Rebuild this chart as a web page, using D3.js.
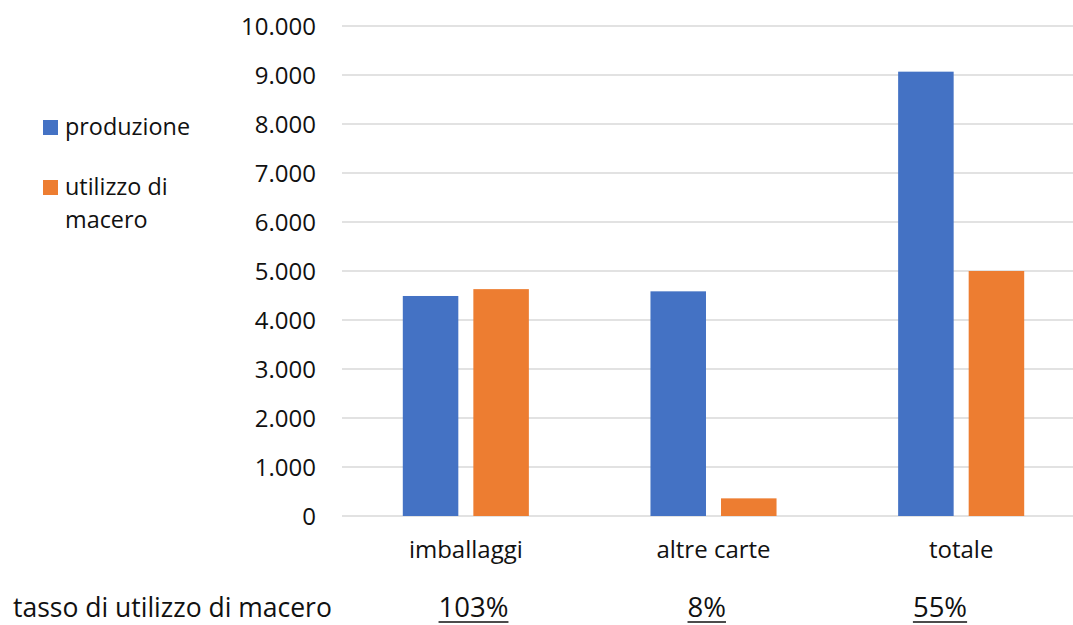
<!DOCTYPE html>
<html><head><meta charset="utf-8">
<script src="https://cdn.jsdelivr.net/npm/d3@7"></script>
<style>body{margin:0;background:#fff}svg{display:block}text{font-family:"Open Sans",sans-serif;fill:#111}</style>
</head><body><svg id="c" width="1073" height="625"></svg>
<script>
const categories = ["imballaggi", "altre carte", "totale"];
const seriesNames = ["produzione", "utilizzo di macero"];
const produzione = [4490, 4585, 9068];
const utilizzo = [4630, 360, 5000];
const tassoLabel = "tasso di utilizzo di macero";
const tassoValues = ["103%", "8%", "55%"];
const yTicks = [0,1000,2000,3000,4000,5000,6000,7000,8000,9000,10000];

const colors = ["#4472C4", "#ED7D31"];
const svg = d3.select("#c");
const loc = d3.formatLocale({decimal:",", thousands:".", grouping:[3], currency:["€",""]});
const fmt = loc.format(",d");

const y = d3.scaleLinear().domain([0,10000]).range([516,26]);
const x0 = d3.scaleBand().domain(categories).range([342,1085]).paddingInner(0.491).paddingOuter(0.2455);
const x1 = d3.scaleBand().domain(seriesNames).range([0,x0.bandwidth()]).paddingInner(0.213).paddingOuter(0);

// gridlines
svg.append("g").selectAll("line").data(yTicks).join("line")
  .attr("x1",342).attr("x2",1085).attr("y1",d=>y(d)).attr("y2",d=>y(d))
  .attr("stroke","#D9D9D9").attr("stroke-width",1.4);

// y axis labels
const yAxis = d3.axisLeft(y).tickValues(yTicks).tickFormat(fmt).tickSize(0).tickPadding(0);
const ga = svg.append("g").attr("transform","translate(316,0)").call(yAxis);
ga.select(".domain").remove();
ga.selectAll("text").attr("font-size",24).attr("font-family","Open Sans").attr("fill","#111").attr("dy","0.35em");

// bars
const data = categories.map((c,i)=>({cat:c, vals:[produzione[i], utilizzo[i]]}));
svg.append("g").selectAll("g").data(data).join("g")
  .attr("transform",d=>`translate(${x0(d.cat)},0)`)
  .selectAll("rect").data(d=>d.vals.map((v,j)=>({s:seriesNames[j],v,j}))).join("rect")
  .attr("x",d=>x1(d.s)).attr("width",x1.bandwidth())
  .attr("y",d=>y(d.v)).attr("height",d=>y(0)-y(d.v))
  .attr("fill",d=>colors[d.j]);

// category labels
svg.append("g").selectAll("text").data(categories).join("text")
  .attr("x",d=>x0(d)+x0.bandwidth()/2).attr("y",558).attr("text-anchor","middle")
  .attr("font-size",24).text(d=>d);

// legend
const leg = svg.append("g");
leg.append("rect").attr("x",43).attr("y",120).attr("width",15).attr("height",15).attr("fill",colors[0]);
leg.append("text").attr("x",65).attr("y",135).attr("font-size",23.4).text("produzione");
leg.append("rect").attr("x",43).attr("y",180).attr("width",15).attr("height",15).attr("fill",colors[1]);
leg.append("text").attr("x",65).attr("y",195).attr("font-size",23.4).text("utilizzo di");
leg.append("text").attr("x",65).attr("y",228).attr("font-size",23.4).text("macero");

// bottom row
svg.append("text").attr("x",13).attr("y",617).attr("font-size",26.5).text(tassoLabel);
const xp = d3.scalePoint().domain(categories).range([473.5,940]);
const pt = svg.append("g").selectAll("g").data(categories).join("g");
pt.append("text").attr("x",d=>xp(d)).attr("y",617).attr("text-anchor","middle").attr("font-size",27.5)
  .text((d,i)=>tassoValues[i])
  .each(function(d){
    const w=this.getComputedTextLength();
    d3.select(this.parentNode).append("line").attr("x1",xp(d)-w/2).attr("x2",xp(d)+w/2)
      .attr("y1",622).attr("y2",622).attr("stroke","#111").attr("stroke-width",1.3);
  });
</script></body></html>
